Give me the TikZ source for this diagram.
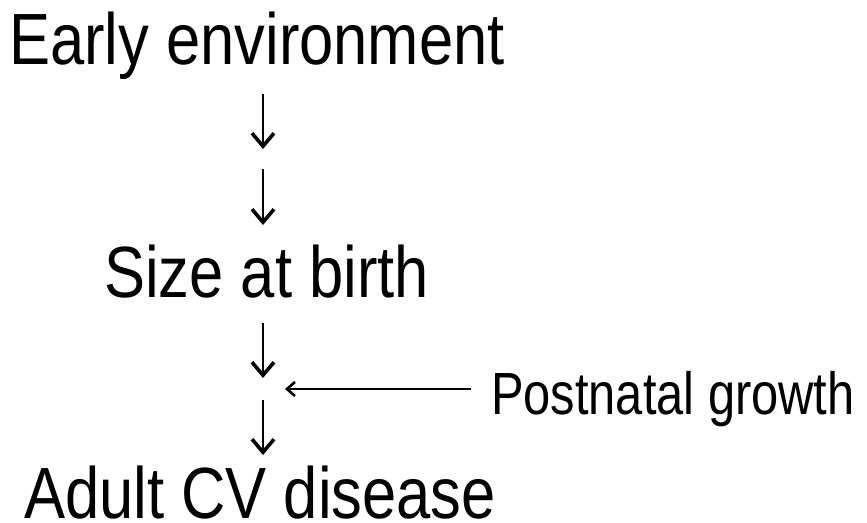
\documentclass[tikz,border=0pt]{standalone}
\usepackage{fontspec}
\setmainfont{Liberation Sans}
\usetikzlibrary{arrows.meta}
\newcommand{\tallbig}[1]{\scalebox{1}[1.18]{\fontsize{61.5}{61.5}\selectfont #1}}
\newcommand{\tallsmall}[1]{\scalebox{1}[1.22]{\fontsize{48.8}{48.8}\selectfont #1}}
\tikzset{
  lbl/.style={anchor=base west, inner sep=0pt},
  varrow/.style={line width=2.6pt, -{Straight Barb[length=13pt,width=22pt,line width=3.6pt]}},
  harrow/.style={line width=2.2pt, -{Straight Barb[length=8pt,width=14pt,line width=2.6pt]}}
}
\begin{document}
\begin{tikzpicture}[x=1pt,y=-1pt]
\useasboundingbox (0,0) rectangle (867,522);
\node[lbl] (early) at (9,64) {\tallbig{Early environment}};
\node[lbl] (size) at (104,297) {\tallbig{Size at birth}};
\node[lbl] (post) at (491,414) {\tallsmall{Postnatal growth}};
\node[lbl] (adult) at (24,518) {\tallbig{Adult CV disease}};
\coordinate (a1s) at (263,94);
\coordinate (a1e) at (263,149);
\coordinate (a2s) at (263,169);
\coordinate (a2e) at (263,225);
\coordinate (a3s) at (263,323);
\coordinate (a3e) at (263,378);
\coordinate (a4s) at (263,400);
\coordinate (a4e) at (263,455);
\coordinate (hs) at (471,389);
\coordinate (he) at (285,389);
\draw[varrow] (a1s) -- (a1e);
\draw[varrow] (a2s) -- (a2e);
\draw[varrow] (a3s) -- (a3e);
\draw[varrow] (a4s) -- (a4e);
\draw[harrow] (hs) -- (he);
\end{tikzpicture}
\end{document}
